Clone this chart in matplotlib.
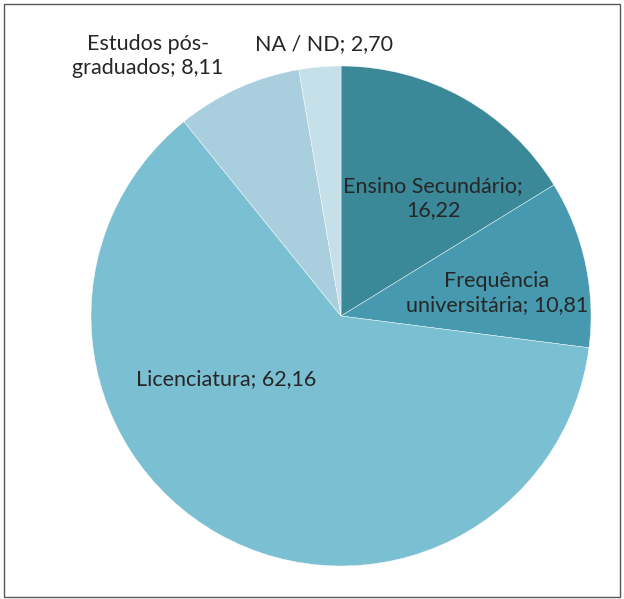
import matplotlib
matplotlib.use("Agg")
import matplotlib.pyplot as plt
from matplotlib.patches import Rectangle

categories = ["Ensino Secundário", "Frequência universitária", "Licenciatura",
              "Estudos pós-graduados", "NA / ND"]
values = [16.22, 10.81, 62.16, 8.11, 2.70]
label_texts = ["Ensino Secundário;\n16,22", "Frequência\nuniversitária; 10,81",
               "Licenciatura; 62,16", "Estudos pós-\ngraduados; 8,11", "NA / ND; 2,70"]
colors = ["#3b8899", "#4699ae", "#7bbfd2", "#a9cfde", "#c5e0e8"]
# label positions in units of pie radius
label_pos = [(0.368, 0.472), (0.624, 0.092), (-0.46, -0.252), (-0.772, 1.04), (-0.068, 1.088)]

plt.rcParams['font.family'] = ['Lato', 'DejaVu Sans']

fig = plt.figure(figsize=(6.24, 5.99), dpi=100)
ax = fig.add_axes([341/624 - 250/624, (599-316)/599 - 250/599, 500/624, 500/599])
ax.pie(values, colors=colors, startangle=90, counterclock=False, radius=1,
       wedgeprops=dict(edgecolor="white", linewidth=0.3))
ax.set_xlim(-1, 1)
ax.set_ylim(-1, 1)
ax.set_aspect("auto")
ax.axis("off")

for txt, (x, y) in zip(label_texts, label_pos):
    ax.text(x, y, txt, ha="center", va="center", fontsize=15.5, color="#262626",
            linespacing=1.2, clip_on=False)

fig.patches.append(Rectangle((4/624, 2/599), 616/624, 593/599, transform=fig.transFigure,
                             fill=False, edgecolor="#595959", linewidth=1))

fig.savefig("out.png", dpi=100)
